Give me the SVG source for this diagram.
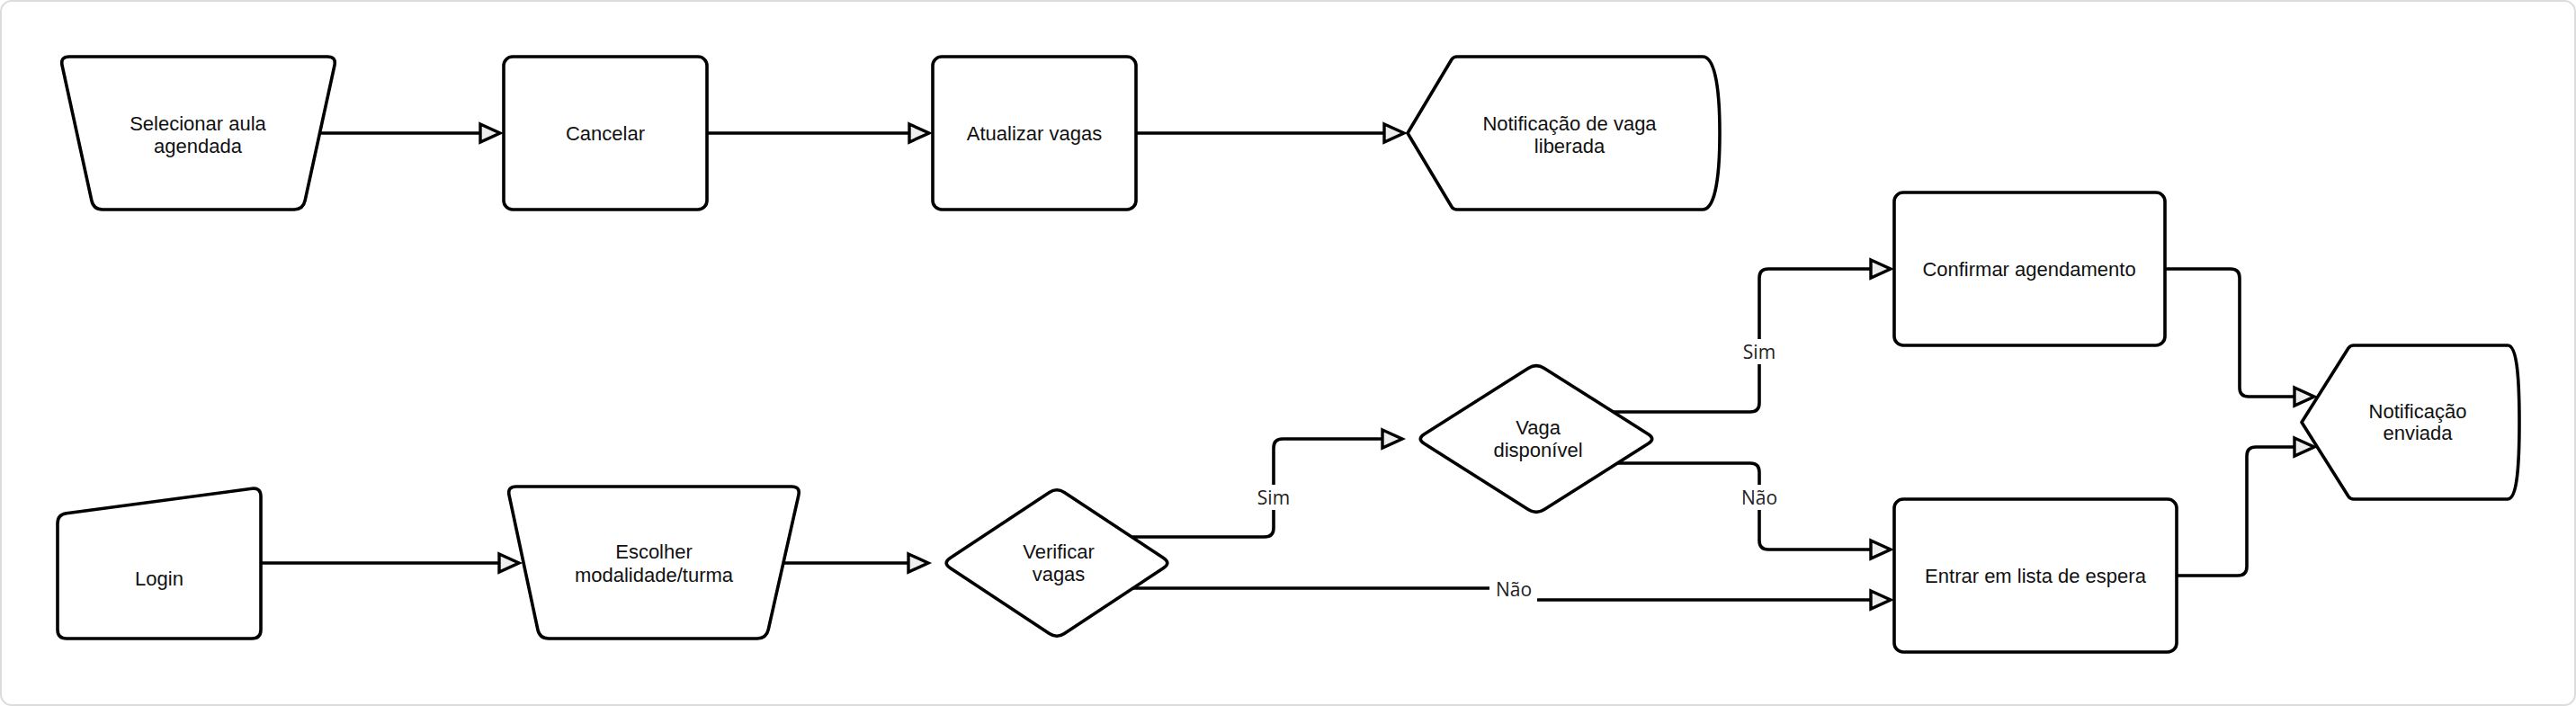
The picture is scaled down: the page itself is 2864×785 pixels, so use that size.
<svg xmlns="http://www.w3.org/2000/svg" width="2864" height="785" viewBox="0 0 2864 785">
<style>
.node{fill:#ffffff;stroke:#000000;stroke-width:3.6;stroke-linejoin:round}
.t{font-family:"Liberation Sans",Arial,sans-serif;font-size:22px;fill:#111111;text-anchor:middle}
.edge{fill:none;stroke:#000000;stroke-width:3.6;stroke-linejoin:round}
.lbl{font-family:"Open Sans","DejaVu Sans",sans-serif;font-size:21px;fill:#222222;text-anchor:middle}
.lblbg{fill:#ffffff;stroke:none}
</style>
<defs>
<marker id="arr" markerUnits="userSpaceOnUse" orient="auto" viewBox="-4 -14 34 28" markerWidth="34" markerHeight="28" refX="0" refY="0" overflow="visible">
<path d="M0,-10 L22,0 L0,10 Z" fill="#eeeeee" stroke="#000000" stroke-width="3.4" stroke-linejoin="miter"/>
</marker>
</defs>
<rect x="1" y="1" width="2862" height="783" rx="12" fill="#ffffff" stroke="#dcdcdc" stroke-width="2"/>
<g id="connectors">
<path class="edge" d="M356,148 H534" marker-end="url(#arr)"/>
<path class="edge" d="M786,148 H1011" marker-end="url(#arr)"/>
<path class="edge" d="M1263,148 H1539" marker-end="url(#arr)"/>
<path class="edge" d="M290,626 H555" marker-end="url(#arr)"/>
<path class="edge" d="M871,626 H1010" marker-end="url(#arr)"/>
<path class="edge" d="M1255,597 H1406 Q1416,597 1416,587 V498 Q1416,488 1426,488 H1537" marker-end="url(#arr)"/>
<path class="edge" d="M1258,654 H1683 V667 H2080" marker-end="url(#arr)"/>
<path class="edge" d="M1790,458 H1946 Q1956,458 1956,448 V309 Q1956,299 1966,299 H2080" marker-end="url(#arr)"/>
<path class="edge" d="M1795,515 H1946 Q1956,515 1956,525 V601 Q1956,611 1966,611 H2080" marker-end="url(#arr)"/>
<path class="edge" d="M2407,299 H2480 Q2490,299 2490,309 V431 Q2490,441 2500,441 H2551" marker-end="url(#arr)"/>
<path class="edge" d="M2420,640 H2488 Q2498,640 2498,630 V507 Q2498,497 2508,497 H2551" marker-end="url(#arr)"/>
<rect class="lblbg" x="1396" y="539" width="40" height="28"/>
<text class="lbl" x="1416" y="561">Sim</text>
<rect class="lblbg" x="1656" y="641" width="53" height="30"/>
<text class="lbl" x="1683" y="663">Não</text>
<rect class="lblbg" x="1936" y="377" width="40" height="28"/>
<text class="lbl" x="1956" y="399">Sim</text>
<rect class="lblbg" x="1934" y="539" width="44" height="28"/>
<text class="lbl" x="1956" y="561">Não</text>
</g>
<g id="selecionar">
<path class="node" d="M77,63 L364,63 Q374,63 371.9,72.8 L339.1,223.2 Q337,233 327,233 L114,233 Q104,233 101.9,223.2 L69.1,72.8 Q67,63 77,63 Z"/>
<text class="t" x="220" y="145">Selecionar aula</text>
<text class="t" x="220" y="170">agendada</text>
</g>
<g id="cancelar">
<rect class="node" x="560" y="63" width="226" height="170" rx="10"/>
<text class="t" x="673" y="156">Cancelar</text>
</g>
<g id="atualizar">
<rect class="node" x="1037" y="63" width="226" height="170" rx="10"/>
<text class="t" x="1150" y="156">Atualizar vagas</text>
</g>
<g id="notif-liberada">
<path class="node" d="M1565,148 L1614,66 Q1616,63 1620,63 L1893,63 C1905,63 1912,90 1912,148 C1912,206 1905,233 1893,233 L1620,233 Q1616,233 1614,230 Z"/>
<text class="t" x="1745" y="145">Notificação de vaga</text>
<text class="t" x="1745" y="170">liberada</text>
</g>
<g id="login">
<path class="node" d="M73.9,570.7 L280.1,543.3 Q290,542 290,552 L290,700 Q290,710 280,710 L74,710 Q64,710 64,700 L64,582 Q64,572 73.9,570.7 Z"/>
<text class="t" x="177" y="651">Login</text>
</g>
<g id="escolher">
<path class="node" d="M574,541 L880,541 Q890,541 887.8,550.8 L854.2,700.2 Q852,710 842,710 L610,710 Q600,710 597.9,700.2 L566.1,550.8 Q564,541 574,541 Z"/>
<text class="t" x="727" y="621">Escolher</text>
<text class="t" x="727" y="647">modalidade/turma</text>
</g>
<g id="verificar">
<path class="node" d="M1166.7,547.5 Q1175,542 1183.3,547.5 L1293.7,620.5 Q1302,626 1293.7,631.5 L1183.3,704.5 Q1175,710 1166.7,704.5 L1056.3,631.5 Q1048,626 1056.3,620.5 Z"/>
<text class="t" x="1177" y="621">Verificar</text>
<text class="t" x="1177" y="646">vagas</text>
</g>
<g id="vaga-disponivel">
<path class="node" d="M1699.5,409.3 Q1708,404 1716.5,409.3 L1832.5,482.7 Q1841,488 1832.5,493.3 L1716.5,566.7 Q1708,572 1699.5,566.7 L1583.5,493.3 Q1575,488 1583.5,482.7 Z"/>
<text class="t" x="1710" y="483">Vaga</text>
<text class="t" x="1710" y="508">disponível</text>
</g>
<g id="confirmar">
<rect class="node" x="2106" y="214" width="301" height="170" rx="10"/>
<text class="t" x="2256" y="307">Confirmar agendamento</text>
</g>
<g id="entrar">
<rect class="node" x="2106" y="555" width="314" height="170" rx="10"/>
<text class="t" x="2263" y="648">Entrar em lista de espera</text>
</g>
<g id="notif-enviada">
<path class="node" d="M2559,469.5 L2611,387 Q2613,384 2617,384 L2788,384 C2797,384 2801,410 2801,469.5 C2801,529 2797,555 2788,555 L2617,555 Q2613,555 2611,552 Z"/>
<text class="t" x="2688" y="465">Notificação</text>
<text class="t" x="2688" y="489">enviada</text>
</g>
</svg>
